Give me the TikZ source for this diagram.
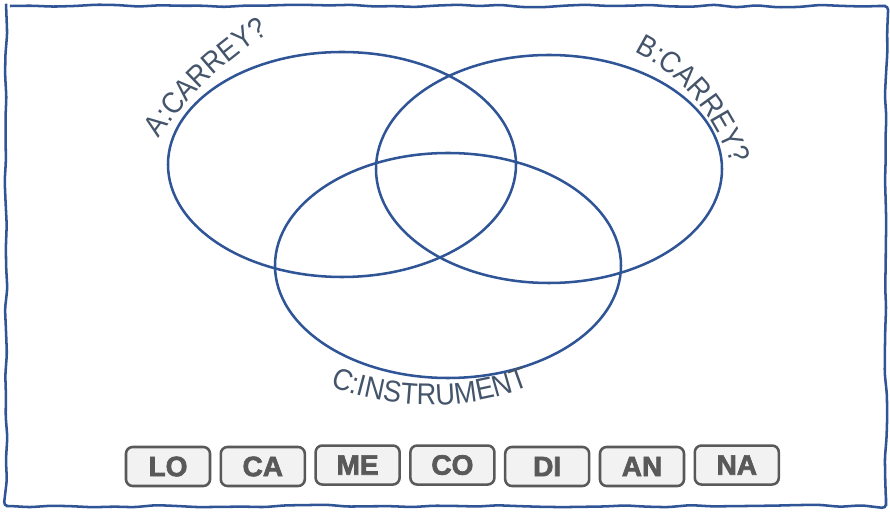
\documentclass[tikz,border=0pt]{standalone}
\usepackage{fontspec}
\setmainfont{Liberation Sans}
\newfontfamily\setfont[FakeStretch=0.9]{Liberation Sans}
\newfontfamily\tilefont[BoldFeatures={FakeBold=2.5}]{Liberation Sans}
\usetikzlibrary{positioning,decorations.text,decorations.pathmorphing}

\definecolor{vennblue}{HTML}{2F5597}
\definecolor{labelgray}{HTML}{44546A}
\definecolor{tilegray}{HTML}{595959}
\definecolor{tilefill}{HTML}{F2F2F2}

\tikzset{
  setline/.style={draw=vennblue, line width=1.9pt},
  setlabel/.style={decorate, decoration={text along path, text align=center,
      text color=labelgray, text={|\setfont\fontsize{22.5}{26}\selectfont|#1}}},
  tile/.style={draw=tilegray, fill=tilefill, line width=1.9pt, rounded corners=5pt,
      minimum width=63pt, minimum height=29.25pt, inner sep=0pt, text=tilegray,
      font=\tilefont\fontsize{21}{24}\selectfont\bfseries},
}

\begin{document}
\begin{tikzpicture}[x=0.75pt, y=0.75pt, node distance=71.1pt]
        \useasboundingbox (0,0) rectangle (890,514);
        \pgfmathsetseed{7}

        % frame
        \draw[vennblue, line width=1.9pt, decorate,
              decoration={random steps, segment length=16pt, amplitude=1pt},
              rounded corners=3pt]
              (6,508) -- (886,508) -- (886,8) -- (6,8) -- cycle;

        % sets
        \coordinate (a) at (342,349.5);
        \coordinate (b) at (549,345);
        \coordinate (c) at (448,248.5);
        \draw[setline] (a) ellipse [x radius=174, y radius=112.5];
        \draw[setline] (b) ellipse [x radius=173, y radius=114];
        \draw[setline] (c) ellipse [x radius=173, y radius=112.5];

        % set labels
        \coordinate (alabel) at (462,167);
        \coordinate (blabel) at (550,292);
        \coordinate (clabel) at (430,382);
        \path[setlabel={A:CARREY?}] ([shift={(151:368)}]alabel)
              arc [start angle=151, end angle=116, radius=368];
        \path[setlabel={B:CARREY?}] ([shift={(70:190)}]blabel)
              arc [start angle=70, end angle=11, radius=190];
        \path[setlabel={C:INSTRUMENT}] ([shift={(244:273)}]clabel)
              arc [start angle=244, end angle=296, radius=273];

        % tiles
        \node (lo) [tile] at (168,47.5) {LO};
        \node (ca) [tile, right of = lo] {CA};
        \node (me) [tile, right of = ca, yshift=1.1pt] {ME};
        \node (co) [tile, right of = me] {CO};
        \node (di) [tile, right of = co, yshift=-1.1pt] {DI};
        \node (an) [tile, right of = di] {AN};
        \node (na) [tile, right of = an, yshift=1.1pt] {NA};
    \end{tikzpicture}
\end{document}
